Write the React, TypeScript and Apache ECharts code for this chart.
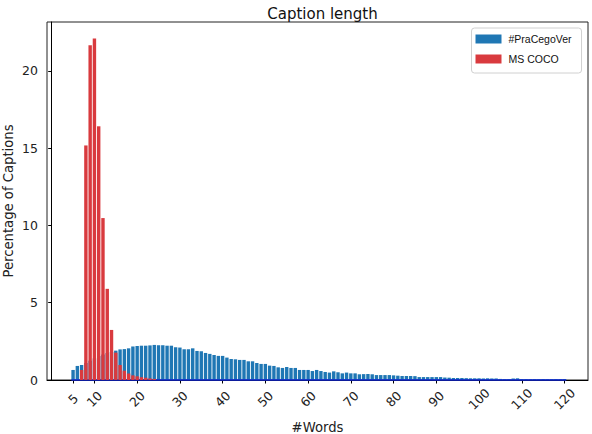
import React, { useEffect, useRef } from "react";
import * as echarts from "echarts";

const TITLE = "Caption length";
const X_NAME = "#Words";
const Y_NAME = "Percentage of Captions";
const SERIES_NAMES = ["#PraCegoVer", "MS COCO"];

const X_TICKS = [5, 10, 20, 30, 40, 50, 60, 70, 80, 90, 100, 110, 120];
const Y_TICKS = [0, 5, 10, 15, 20];

// #PraCegoVer: percentage of captions per word count, starting at 5 words
const PRA_START = 5;
const praValues = [
  0.65, 0.91, 0.97, 1.1, 1.25, 1.4, 1.55, 1.65, 1.75, 1.82,
  1.9, 1.98, 2.0, 2.05, 2.17, 2.2, 2.22, 2.22, 2.24, 2.27,
  2.25, 2.25, 2.22, 2.22, 2.12, 2.1, 1.99, 1.99, 2.05, 1.88,
  1.86, 1.75, 1.69, 1.62, 1.56, 1.56, 1.45, 1.36, 1.34, 1.3,
  1.3, 1.21, 1.21, 1.1, 1.04, 1.04, 0.93, 0.91, 0.82, 0.78,
  0.84, 0.78, 0.78, 0.65, 0.65, 0.65, 0.58, 0.65, 0.58, 0.52,
  0.48, 0.56, 0.5, 0.43, 0.48, 0.43, 0.43, 0.37, 0.38, 0.39,
  0.37, 0.32, 0.32, 0.32, 0.32, 0.3, 0.28, 0.26, 0.26, 0.26,
  0.25, 0.19, 0.19, 0.19, 0.19, 0.19, 0.19, 0.16, 0.15, 0.13,
  0.13, 0.13, 0.12, 0.11, 0.11, 0.11, 0.1, 0.11, 0.1, 0.1,
  0.07, 0.06, 0.06, 0.1, 0.11, 0.06, 0.06, 0.05, 0.06, 0.05,
  0.06, 0.05, 0.05, 0.06, 0.05, 0.06,
];

// MS COCO: percentage of captions per word count, starting at 7 words
const COCO_START = 7;
const cocoValues = [
  0.65, 15.18, 21.67, 22.1, 16.42, 10.48, 5.9, 3.24, 1.77, 0.97,
  0.6, 0.42, 0.3, 0.24, 0.18, 0.15, 0.1, 0.07,
];

const BLUE = "#1f77b4";
const RED = "#d93a3e";

export default function App() {
  const ref = useRef<HTMLDivElement>(null);

  useEffect(() => {
    if (!ref.current) return;
    const chart = echarts.init(ref.current, undefined, { renderer: "svg" });
    const praData = praValues.map((v, i) => [PRA_START + i, v]);
    const cocoData = cocoValues.map((v, i) => [COCO_START + i, v]);
    const tickFont = {
      fontFamily: "DejaVu Sans",
      fontSize: 12.5,
      color: "#222",
    };
    const nameFont = {
      fontFamily: "DejaVu Sans",
      fontSize: 13.2,
      color: "#222",
    };
    chart.setOption({
      animation: false,
      title: {
        text: TITLE,
        left: 317.5,
        top: 1,
        textAlign: "center",
        textStyle: {
          fontFamily: "DejaVu Sans",
          fontSize: 15,
          fontWeight: "normal",
          color: "#111",
        },
      },
      graphic: [
        {
          type: "text",
          x: 8,
          y: 201,
          rotation: Math.PI / 2,
          silent: true,
          style: {
            text: Y_NAME,
            fontFamily: nameFont.fontFamily,
            fontSize: nameFont.fontSize,
            fill: nameFont.color,
            align: "center",
            verticalAlign: "middle",
          },
        },
      ],
      legend: {
        orient: "vertical",
        left: 471.5,
        top: 28,
        padding: [5, 10, 8, 4],
        itemWidth: 26,
        itemHeight: 9,
        itemGap: 8,
        icon: "rect",
        borderColor: "#d0d0d0",
        borderWidth: 1,
        borderRadius: 3,
        backgroundColor: "rgba(255,255,255,0.85)",
        textStyle: {
          fontFamily: "Liberation Sans",
          fontSize: 10.5,
          lineHeight: 12,
          color: "#111",
          padding: [0, 0, 0, 2],
        },
        data: SERIES_NAMES,
      },
      grid: {
        left: 47,
        right: 4,
        top: 22,
        bottom: 54,
        outerBoundsMode: "none",
        containLabel: false,
        show: true,
        borderColor: "#222",
        borderWidth: 1,
        backgroundColor: "transparent",
      },
      xAxis: {
        type: "value",
        min: -1.1,
        max: 125.5,
        name: X_NAME,
        nameLocation: "middle",
        nameGap: 41,
        nameTextStyle: { ...nameFont, verticalAlign: "top" },
        splitLine: { show: false },
        axisLine: { show: true, onZero: false, lineStyle: { color: "#000", width: 1 } },
        axisTick: {
          show: true,
          length: 3.5,
          customValues: X_TICKS,
          lineStyle: { color: "#000" },
        },
        axisLabel: {
          ...tickFont,
          customValues: X_TICKS,
          rotate: 45,
          align: "center",
          verticalAlign: "middle",
          margin: 19,
        },
      },
      yAxis: {
        type: "value",
        min: 0,
        max: 23.17,
        splitLine: { show: false },
        axisLine: { show: true, lineStyle: { color: "#000", width: 1 } },
        axisTick: {
          show: true,
          length: 3.5,
          customValues: Y_TICKS,
          lineStyle: { color: "#000" },
        },
        axisLabel: {
          ...tickFont,
          customValues: Y_TICKS,
          margin: 9,
        },
      },
      series: [
        {
          name: SERIES_NAMES[0],
          type: "bar",
          data: praData,
          barWidth: 3.4,
          barGap: "-100%",
          z: 2,
          itemStyle: { color: BLUE },
          markLine: {
            silent: true,
            symbol: "none",
            z: 3,
            label: { show: false },
            lineStyle: { color: "#1024d0", width: 1.5, type: "solid" },
            data: [
              [
                { coord: [PRA_START - 0.4, 0.04] },
                { coord: [PRA_START + praValues.length - 1 + 0.4, 0.04] },
              ],
            ],
          },
        },
        {
          name: SERIES_NAMES[1],
          type: "bar",
          data: cocoData,
          barWidth: 3.4,
          barGap: "-100%",
          z: 4,
          itemStyle: { color: RED },
        },
      ],
    });
    return () => chart.dispose();
  }, []);

  return (
    <div
      ref={ref}
      style={{ position: "fixed", left: 0, top: 0, width: 592, height: 434, background: "#fff" }}
    />
  );
}
